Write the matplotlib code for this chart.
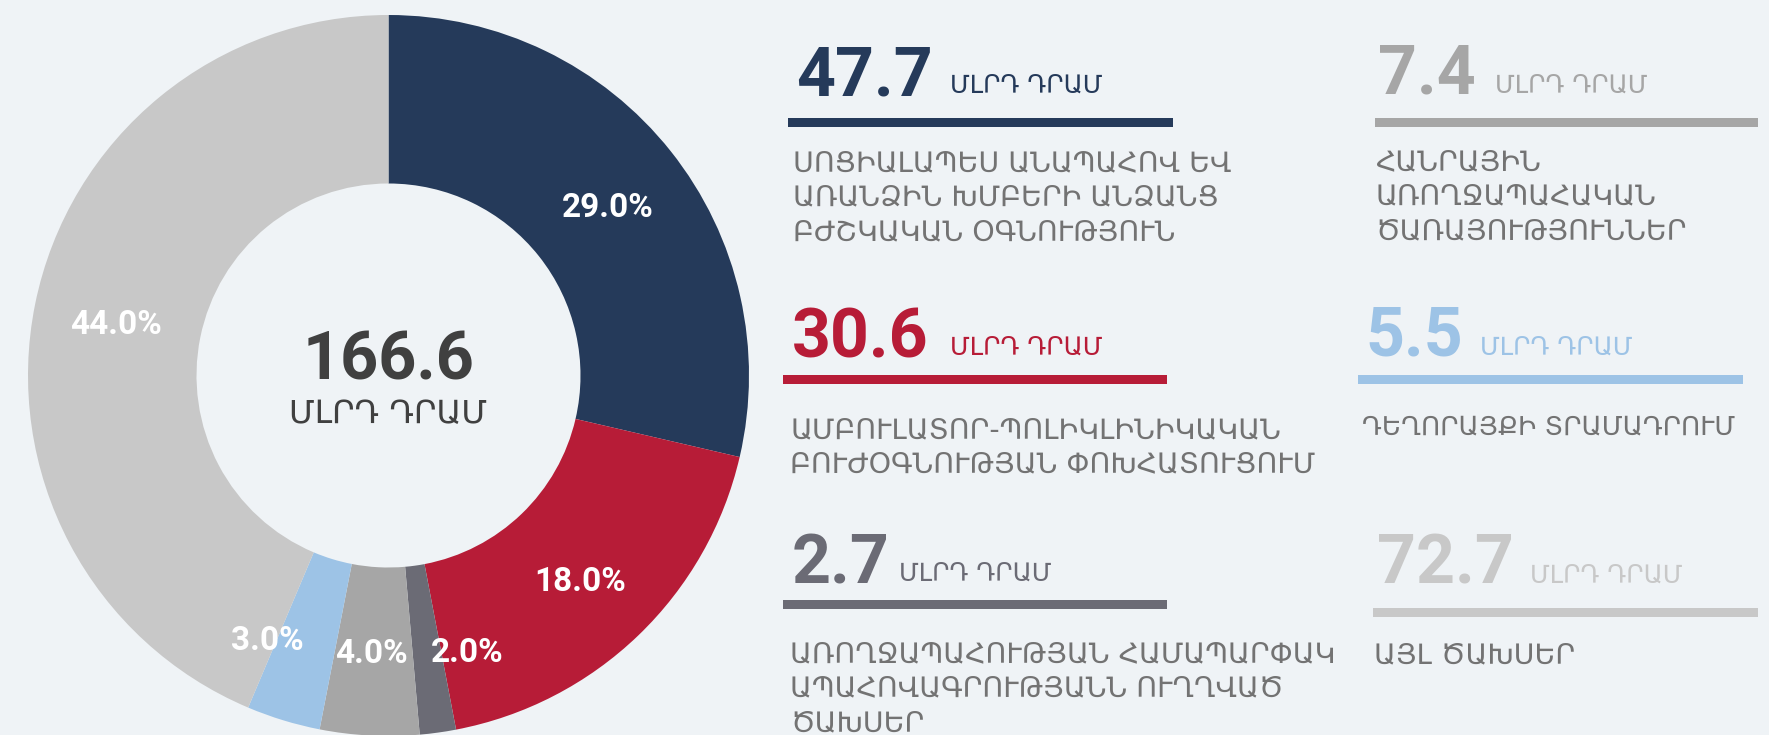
import matplotlib
matplotlib.use("Agg")
import matplotlib.pyplot as plt
from matplotlib.patches import Rectangle
import numpy as np

# ---------------- data ----------------
values = [47.7, 30.6, 2.7, 7.4, 5.5, 72.7]
value_labels = ["47.7", "30.6", "2.7", "7.4", "5.5", "72.7"]
pct_labels = ["29.0%", "18.0%", "2.0%", "4.0%", "3.0%", "44.0%"]
total_label = "166.6"
unit = "ՄԼՐԴ ԴՐԱՄ"
descriptions = [
    "ՍՈՑԻԱԼԱՊԵՍ ԱՆԱՊԱՀՈՎ ԵՎ\nԱՌԱՆՁԻՆ ԽՄԲԵՐԻ ԱՆՁԱՆՑ\nԲԺՇԿԱԿԱՆ ՕԳՆՈՒԹՅՈՒՆ",
    "ԱՄԲՈՒԼԱՏՈՐ-ՊՈԼԻԿԼԻՆԻԿԱԿԱՆ\nԲՈՒԺՕԳՆՈՒԹՅԱՆ ՓՈԽՀԱՏՈՒՑՈՒՄ",
    "ԱՌՈՂՋԱՊԱՀՈՒԹՅԱՆ ՀԱՄԱՊԱՐՓԱԿ\nԱՊԱՀՈՎԱԳՐՈՒԹՅԱՆՆ ՈՒՂՂՎԱԾ\nԾԱԽՍԵՐ",
    "ՀԱՆՐԱՅԻՆ\nԱՌՈՂՋԱՊԱՀԱԿԱՆ\nԾԱՌԱՅՈՒԹՅՈՒՆՆԵՐ",
    "ԴԵՂՈՐԱՅՔԻ ՏՐԱՄԱԴՐՈՒՄ",
    "ԱՅԼ ԾԱԽՍԵՐ",
]
colors = ["#253A5A", "#B71C37", "#6B6B75", "#A6A6A6", "#9DC3E6", "#C8C8C8"]

# ---------------- style ----------------
BG = "#EFF3F6"
DESC_COLOR = "#737373"
CENTER_COLOR = "#404040"
W, H = 1769, 735
NUM_FONT = ["Roboto", "DejaVu Sans"]
ARM_FONT = ["DejaVu Sans"]

fig = plt.figure(figsize=(W / 100, H / 100), dpi=100, facecolor=BG)


def fx(x):
    return x / W


def fy(y):
    return 1 - y / H


# ---------------- donut ----------------
cx, cy, R = 388.5, 375.5, 360.5
ax = fig.add_axes([fx(cx - R), fy(cy + R), 2 * R / W, 2 * R / H])
ax.set_facecolor(BG)
ring = 1 - 192 / R
ax.pie(values, colors=colors, startangle=90, counterclock=False, radius=1,
       wedgeprops=dict(width=ring, linewidth=0, antialiased=True))
ax.set_xlim(-1, 1)
ax.set_ylim(-1, 1)
ax.axis("off")

total = sum(values)
cum = np.cumsum([0] + values[:-1])
angle_nudge = [-1, -1, 8, -0.5, -7.5, 1]
dist = [0.765, 0.78, 0.80, 0.775, 0.81, 0.77]
for v, c0, lab, dn, d in zip(values, cum, pct_labels, angle_nudge, dist):
    th = np.deg2rad(90 - 360 * (c0 + v / 2) / total + dn)
    ax.text(d * np.cos(th), d * np.sin(th), lab, ha="center", va="center",
            color="white", fontsize=24, fontweight="bold", family=NUM_FONT)

fig.text(fx(cx), fy(380), total_label, ha="center", va="baseline",
         fontsize=48, fontweight="bold", color=CENTER_COLOR, family=NUM_FONT)
fig.text(fx(cx), fy(423), unit, ha="center", va="baseline",
         fontsize=23.4, color=CENTER_COLOR, family=ARM_FONT)

# ---------------- legend blocks ----------------
# (number x, number baseline, unit x, unit baseline, line x0, x1, line top,
#  desc x, desc first baseline, desc size)
blocks = [
    (796, 95, 950, 93, 788, 1173, 118, 793, 171, 20.5),
    (792, 357, 950, 355, 783, 1167, 375, 790, 438, 20.5),
    (792, 583, 899, 581, 783, 1167, 600, 790, 662, 20.5),
    (1378, 93, 1495, 93, 1375, 1758, 118, 1375, 170, 20.5),
    (1365, 355, 1480, 355, 1358, 1743, 375, 1362, 435, 19.0),
    (1377, 583, 1530, 583, 1373, 1758, 608, 1374, 663, 20.5),
]
line_step = 34.5
for lab, desc, col, b in zip(value_labels, descriptions, colors, blocks):
    nx, nb, ux, ub, lx0, lx1, lt, dx, db, ds = b
    fig.text(fx(nx), fy(nb), lab, ha="left", va="baseline", fontsize=49,
             fontweight="bold", color=col, family=NUM_FONT)
    fig.text(fx(ux), fy(ub), unit, ha="left", va="baseline", fontsize=18,
             color=col, family=ARM_FONT)
    fig.add_artist(Rectangle((fx(lx0), fy(lt + 9)), (lx1 - lx0) / W, 9 / H,
                             transform=fig.transFigure, facecolor=col,
                             edgecolor="none"))
    for i, line in enumerate(desc.split("\n")):
        fig.text(fx(dx), fy(db + i * line_step), line, ha="left",
                 va="baseline", fontsize=ds, color=DESC_COLOR, family=ARM_FONT)

fig.savefig("out.png", dpi=100, facecolor=BG)
